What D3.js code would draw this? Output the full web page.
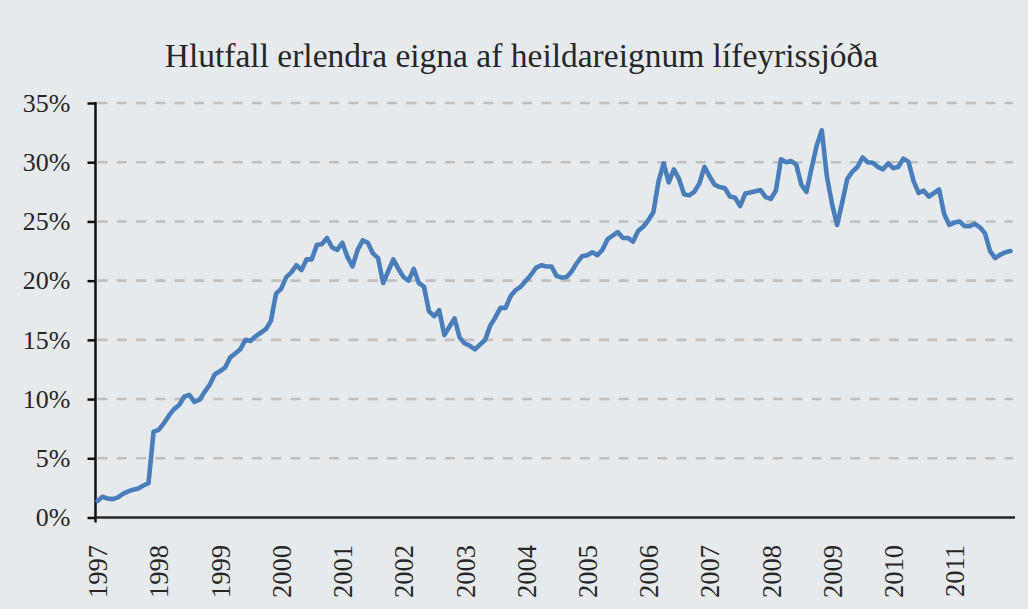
<!DOCTYPE html>
<html>
<head>
<meta charset="utf-8">
<script src="https://cdn.jsdelivr.net/npm/d3@7"></script>
<style>
  body { margin: 0; background: #e6eaed; }
  svg { display: block; }
</style>
</head>
<body>
<div id="chart"></div>
<script>
// chart title
var title = "Hlutfall erlendra eigna af heildareignum lífeyrissjóða";

// year labels on the x axis (one per January)
var years = ["1997", "1998", "1999", "2000", "2001", "2002", "2003", "2004",
             "2005", "2006", "2007", "2008", "2009", "2010", "2011"];

// y axis ticks, in percent
var yTicks = [0, 5, 10, 15, 20, 25, 30, 35];

// monthly share of foreign assets (%), Jan 1997 - Dec 2011
var share = [
  1.4, 1.75, 1.6, 1.55, 1.7, 2.0, 2.2, 2.35, 2.45, 2.7, 2.9, 7.25,      // 1997
  7.4, 7.95, 8.6, 9.15, 9.5, 10.2, 10.35, 9.75, 9.95, 10.6, 11.2, 12.1, // 1998
  12.35, 12.65, 13.5, 13.85, 14.2, 15.0, 14.9, 15.3, 15.6, 15.9, 16.6, 18.9, // 1999
  19.3, 20.3, 20.7, 21.3, 20.9, 21.8, 21.8, 23.0, 23.1, 23.6, 22.8, 22.6, // 2000
  23.2, 22.0, 21.2, 22.6, 23.4, 23.2, 22.3, 21.9, 19.8, 20.8, 21.8, 21.0, // 2001
  20.3, 20.0, 21.0, 19.8, 19.5, 17.4, 17.0, 17.5, 15.4, 16.1, 16.8, 15.2, // 2002
  14.7, 14.5, 14.2, 14.6, 15.0, 16.2, 16.9, 17.7, 17.7, 18.7, 19.2, 19.5, // 2003
  20.0, 20.5, 21.1, 21.3, 21.2, 21.2, 20.4, 20.25, 20.3, 20.8, 21.5, 22.05, // 2004
  22.15, 22.4, 22.15, 22.6, 23.5, 23.8, 24.1, 23.6, 23.6, 23.3, 24.2, 24.55, // 2005
  25.1, 25.8, 28.4, 29.9, 28.3, 29.4, 28.6, 27.3, 27.2, 27.5, 28.2, 29.6, // 2006
  28.8, 28.1, 27.9, 27.8, 27.1, 27.0, 26.3, 27.35, 27.45, 27.55, 27.65, 27.05, // 2007
  26.9, 27.6, 30.25, 30.0, 30.1, 29.8, 28.1, 27.5, 29.5, 31.4, 32.7, 28.8, // 2008
  26.5, 24.7, 26.6, 28.6, 29.2, 29.6, 30.4, 30.0, 29.95, 29.6, 29.4, 29.9, // 2009
  29.5, 29.6, 30.3, 30.05, 28.4, 27.4, 27.6, 27.1, 27.4, 27.7, 25.6, 24.7, // 2010
  24.9, 25.0, 24.6, 24.6, 24.8, 24.5, 24.0, 22.5, 21.9, 22.2, 22.4, 22.5  // 2011
];

var width = 1028, height = 609;
var plot = {left: 95.5, right: 1015, top: 103, bottom: 517.5};

var svg = d3.select("#chart")
  .append("svg")
  .attr("width", width)
  .attr("height", height);

svg.append("rect")
  .attr("width", width)
  .attr("height", height)
  .attr("fill", "#e6eaed");

// scales
var x = d3.scaleLinear()
  .domain([0, share.length - 1])
  .range([97.5, 1010.5]);

var y = d3.scaleLinear()
  .domain([0, 35])
  .range([plot.bottom, plot.top]);

// title
svg.append("text")
  .attr("x", 521.5)
  .attr("y", 66.5)
  .attr("text-anchor", "middle")
  .style("font-family", "'Liberation Serif', 'Times New Roman', serif")
  .style("font-size", "33.5px")
  .style("fill", "#262626")
  .text(title);

// dashed gridlines
svg.append("g")
  .selectAll("line")
  .data(yTicks.filter(function(d) { return d > 0; }))
  .enter()
  .append("line")
  .attr("x1", plot.left + 2)
  .attr("x2", plot.right - 2)
  .attr("y1", function(d) { return y(d); })
  .attr("y2", function(d) { return y(d); })
  .attr("stroke", "#c0c0c0")
  .attr("stroke-width", 2.6)
  .attr("stroke-dasharray", "10,9.3");

// y axis
var yAxis = svg.append("g")
  .attr("transform", "translate(" + plot.left + ",0)")
  .call(d3.axisLeft(y)
    .tickValues(yTicks)
    .tickFormat(function(d) { return d + "%"; })
    .tickSize(8)
    .tickSizeOuter(0)
    .tickPadding(17));

yAxis.select(".domain").remove();
yAxis.selectAll(".tick line")
  .attr("stroke", "#111")
  .attr("stroke-width", 2.5);
yAxis.selectAll("text")
  .style("font-family", "'Liberation Serif', 'Times New Roman', serif")
  .style("font-size", "26px")
  .style("fill", "#262626");

svg.append("line")
  .attr("x1", plot.left)
  .attr("x2", plot.left)
  .attr("y1", plot.top - 1)
  .attr("y2", plot.bottom + 5)
  .attr("stroke", "#111")
  .attr("stroke-width", 2.5);

// x axis with rotated year labels
var xAxis = svg.append("g")
  .attr("transform", "translate(0," + plot.bottom + ")")
  .call(d3.axisBottom(x)
    .tickValues(years.map(function(d, i) { return i * 12; }))
    .tickFormat(function(d) { return years[d / 12]; })
    .tickSize(0));

xAxis.select(".domain").remove();
xAxis.selectAll("text")
  .attr("transform", "rotate(-90)")
  .attr("x", -27.5)
  .attr("y", 0)
  .attr("dy", "0.35em")
  .style("text-anchor", "end")
  .style("font-family", "'Liberation Serif', 'Times New Roman', serif")
  .style("font-size", "26.5px")
  .style("fill", "#262626");

svg.append("line")
  .attr("x1", plot.left)
  .attr("x2", plot.right)
  .attr("y1", plot.bottom)
  .attr("y2", plot.bottom)
  .attr("stroke", "#262626")
  .attr("stroke-width", 2.7);

// the series
var line = d3.line()
  .x(function(d, i) { return x(i); })
  .y(function(d) { return y(d); });

svg.append("path")
  .datum(share)
  .attr("d", line)
  .attr("fill", "none")
  .attr("stroke", "#4a7ebb")
  .attr("stroke-width", 4.6)
  .attr("stroke-linejoin", "round")
  .attr("stroke-linecap", "round");
</script>
</body>
</html>
